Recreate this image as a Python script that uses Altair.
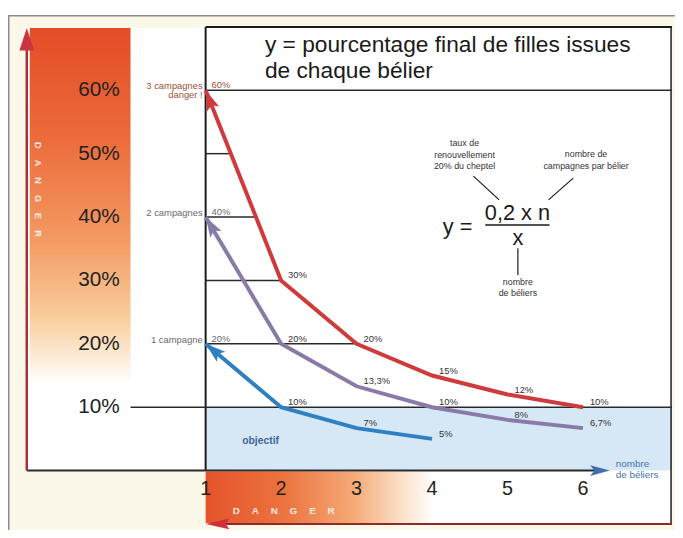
import math
import altair as alt
import pandas as pd

# ---------------- data ----------------
x_beliers = [1, 2, 3, 4, 5, 6]
pct_3_campagnes = [60, 30, 20, 15, 12, 10]
pct_2_campagnes = [40, 20, 13.3, 10, 8, 6.7]
pct_1_campagne = [20, 10, 6.7, 5]
labels_3 = ["60%", "30%", "20%", "15%", "12%", "10%"]
labels_2 = ["40%", "20%", "13,3%", "10%", "8%", "6,7%"]
labels_1 = ["20%", "10%", "7%", "5%"]
series_names = ["3 campagnes", "2 campagnes", "1 campagne"]
series_colors = ["#cf3b3c", "#8a7aa8", "#2f80c3"]
name_colors = ["#9c5236", "#6a6a6a", "#6a6a6a"]
y_tick_values = [10, 20, 30, 40, 50, 60]
x_tick_values = [1, 2, 3, 4, 5, 6]
guide_levels = [60, 50, 40, 30, 20]
guide_ends = [7.18, 1.333, 1.667, 2, 3]
objective_level = 10

# ---------------- geometry ----------------
X_MIN, X_MAX = 1, 7.18
Y_MIN, Y_MAX = 0, 70
W, H = 472, 449
OX, OY = 208, 24  # absolute position of plot origin in the page


def P(x):
    return x - OX


def Q(y):
    return y - OY


XS = alt.Scale(domain=[X_MIN, X_MAX], nice=False, zero=False)
YS = alt.Scale(domain=[Y_MIN, Y_MAX], nice=False, zero=False)
FILL_SCALE = alt.Scale(domain=series_names, range=name_colors)
COLOR_SCALE = alt.Scale(domain=series_names, range=series_colors)

rows = []
for name, ys, labs in zip(series_names,
                          [pct_3_campagnes, pct_2_campagnes, pct_1_campagne],
                          [labels_3, labels_2, labels_1]):
    for i, (x, y, lab) in enumerate(zip(x_beliers, ys, labs)):
        rows.append({"serie": name, "x": x, "y": y, "label": lab, "rank": i})
curves = pd.DataFrame(rows)

px_x = W / (X_MAX - X_MIN)
px_y = H / (Y_MAX - Y_MIN)
heads = []
for name, ys in zip(series_names, [pct_3_campagnes, pct_2_campagnes, pct_1_campagne]):
    dx = (x_beliers[0] - x_beliers[1]) * px_x
    dy = -(ys[0] - ys[1]) * px_y
    ang = math.degrees(math.atan2(dx, -dy)) % 360
    heads.append({"serie": name, "x": x_beliers[0], "y": ys[0], "ang": ang})
heads = pd.DataFrame(heads)

one = pd.DataFrame({"k": [0]})


def prect(x, y, x2, y2, **kw):
    return alt.Chart(one).mark_rect(**kw).encode(
        x=alt.value(x), y=alt.value(y), x2=alt.value(x2), y2=alt.value(y2))


def pline(x, y, x2, y2, **kw):
    return alt.Chart(one).mark_rule(**kw).encode(
        x=alt.value(x), y=alt.value(y), x2=alt.value(x2), y2=alt.value(y2))


def ptext(x, y, text, **kw):
    kw.setdefault("font", "Liberation Sans")
    return alt.Chart(one).mark_text(text=text, **kw).encode(
        x=alt.value(x), y=alt.value(y))


def phead(x, y, shape, size, color, angle=0):
    return alt.Chart(one).mark_point(
        shape=shape, size=size, filled=True, fill=color, opacity=1,
        strokeWidth=0, angle=angle).encode(x=alt.value(x), y=alt.value(y))


layers = []
# page background & frames
layers.append(prect(P(8.75), Q(12.75), P(720), Q(600), fill="#fcf8e9",
                    stroke="#8c8c8c", strokeWidth=1.5))
layers.append(prect(P(27), Q(25), P(208), Q(473), fill="white"))
layers.append(prect(0, 0, P(680), Q(527), fill="white"))

# objective zone
obj = pd.DataFrame({"x": [X_MIN], "x2": [X_MAX], "y": [0], "y2": [objective_level]})
layers.append(alt.Chart(obj).mark_rect(fill="#d6e7f5").encode(
    x=alt.X("x:Q", scale=XS, axis=None), x2="x2",
    y=alt.Y("y:Q", scale=YS, axis=None), y2="y2"))

# danger gradients
vgrad = alt.Gradient(gradient="linear", x1=0, x2=0, y1=0, y2=1, stops=[
    alt.GradientStop(color="#e44c27", offset=0),
    alt.GradientStop(color="#ec6a3a", offset=0.3),
    alt.GradientStop(color="#f39a63", offset=0.6),
    alt.GradientStop(color="#f9cf9e", offset=0.82),
    alt.GradientStop(color="#ffffff", offset=1)])
layers.append(prect(P(30), Q(25), P(132), Q(385), fill=vgrad))
hgrad = alt.Gradient(gradient="linear", x1=0, x2=1, y1=0, y2=0, stops=[
    alt.GradientStop(color="#e4532a", offset=0),
    alt.GradientStop(color="#ec7440", offset=0.35),
    alt.GradientStop(color="#f5ab78", offset=0.65),
    alt.GradientStop(color="#fbe0c6", offset=0.85),
    alt.GradientStop(color="#ffffff", offset=1)])
layers.append(prect(P(208), Q(474), P(440), Q(526), fill=hgrad))

sp = "\u2003\u2009"
danger = sp.join(list("DANGER"))
layers.append(ptext(P(38), Q(188.5), danger, angle=90, fontSize=9.3, fontWeight="bold",
                    fill="white", opacity=0.85, align="center", baseline="middle"))
layers.append(ptext(P(287), Q(514), danger, fontSize=10, fontWeight="bold",
                    fill="white", opacity=0.85, align="center", baseline="middle"))

# borders
layers.append(pline(0, 0, P(680), 0, stroke="#1a1a1a", strokeWidth=2))
layers.append(pline(0, 0, 0, H, stroke="#1a1a1a", strokeWidth=2))
layers.append(pline(P(679), 0, P(679), Q(527), stroke="#1a1a1a", strokeWidth=1.5))

# guide lines (to the 3-campaign curve)
guides = pd.DataFrame({"x0": [X_MIN] * len(guide_levels), "x1": guide_ends, "y": guide_levels})
layers.append(alt.Chart(guides).mark_rule(stroke="#2a2a2a", strokeWidth=1.5).encode(
    x=alt.X("x0:Q", scale=XS, axis=None), x2="x1",
    y=alt.Y("y:Q", scale=YS, axis=None)))
obj_line = pd.DataFrame({"y": [objective_level]})
layers.append(alt.Chart(obj_line).mark_rule(stroke="#2a2a2a", strokeWidth=1.5).encode(
    x=alt.value(P(132)), x2=alt.value(P(680)),
    y=alt.Y("y:Q", scale=YS, axis=None)))

# left box bottom and x axis arrow
layers.append(pline(P(27), H, 0, H, stroke="#2a2a2a", strokeWidth=2))
layers.append(pline(0, H, P(602), H, stroke="#2a2a2a", strokeWidth=2))
layers.append(phead(P(607), H, "M1,0 L-1,-0.55 L-0.55,0 L-1,0.55 Z", 400, "#3f6fb0"))

# left danger arrow
layers.append(pline(P(27), H, P(27), Q(40), stroke="#a3303a", strokeWidth=2.5))
layers.append(phead(P(27), Q(36.5), "M0,-1 L0.65,1 L-0.65,1 Z", 529, "#cc3340"))

# bottom danger arrow
layers.append(pline(P(216), Q(527), P(680), Q(527), stroke="#8e2a2a", strokeWidth=2))
layers.append(phead(P(220), Q(527), "M-1,0 L1,-0.45 L0.7,0 L1,0.45 Z", 576, "#d0303a"))

# tick labels (drawn through the scales)
xt = pd.DataFrame({"x": x_tick_values})
layers.append(alt.Chart(xt).mark_text(
    fontSize=20, fill="#222", align="center", baseline="middle",
    font="Liberation Sans").encode(
    x=alt.X("x:Q", scale=XS, axis=None), y=alt.value(Q(492)),
    text=alt.Text("x:Q", format="d")))
yt = pd.DataFrame({"y": y_tick_values})
layers.append(alt.Chart(yt).transform_calculate(lab="datum.y + '%'").mark_text(
    fontSize=21, fill="#222", align="right", baseline="middle",
    font="Liberation Sans").encode(
    y=alt.Y("y:Q", scale=YS, axis=None), x=alt.value(P(121)),
    text="lab:N"))

# curves
layers.append(alt.Chart(curves).mark_line(strokeWidth=4, strokeCap="butt").encode(
    x=alt.X("x:Q", scale=XS, axis=None),
    y=alt.Y("y:Q", scale=YS, axis=None),
    color=alt.Color("serie:N", scale=COLOR_SCALE, legend=None),
    order="x:Q"))

layers.append(alt.Chart(heads).mark_point(
    shape="M0,0 L0.55,1.7 L0,1.35 L-0.55,1.7 Z", size=576, filled=True, opacity=1,
    strokeWidth=0).encode(
    x=alt.X("x:Q", scale=XS, axis=None), y=alt.Y("y:Q", scale=YS, axis=None),
    color=alt.Color("serie:N", scale=COLOR_SCALE, legend=None),
    angle=alt.Angle("ang:Q", scale=None)))

# value labels
layers.append(alt.Chart(curves).transform_filter("datum.rank > 0").mark_text(
    align="left", baseline="alphabetic", dx=7, dy=-2, fontSize=9.5, fill="#333",
    font="Liberation Sans").encode(
    x=alt.X("x:Q", scale=XS, axis=None), y=alt.Y("y:Q", scale=YS, axis=None),
    text="label:N"))
layers.append(alt.Chart(curves).transform_filter("datum.rank == 0").mark_text(
    align="left", baseline="alphabetic", dx=6, dy=-2, fontSize=9.5,
    font="Liberation Sans").encode(
    x=alt.X("x:Q", scale=XS, axis=None), y=alt.Y("y:Q", scale=YS, axis=None),
    text="label:N",
    fill=alt.Fill("serie:N", scale=FILL_SCALE, legend=None)))

# series names at the left of the plot
layers.append(alt.Chart(curves).transform_filter("datum.rank == 0").mark_text(
    align="right", baseline="middle", dx=-3, dy=-4, fontSize=9.5,
    font="Liberation Sans").encode(
    x=alt.value(0), y=alt.Y("y:Q", scale=YS, axis=None),
    text="serie:N",
    fill=alt.Fill("serie:N", scale=FILL_SCALE, legend=None)))
layers.append(alt.Chart(curves).transform_filter(
    alt.datum.serie == series_names[0]).transform_filter("datum.rank == 0").mark_text(
    align="right", baseline="middle", dx=-3, dy=5, fontSize=9.5, text="danger !",
    font="Liberation Sans").encode(
    x=alt.value(0), y=alt.Y("y:Q", scale=YS, axis=None),
    fill=alt.Fill("serie:N", scale=FILL_SCALE, legend=None)))

# title
layers.append(ptext(P(268), Q(49), "y = pourcentage final de filles issues\nde chaque bélier",
                    align="left", baseline="alphabetic", fontSize=23, lineBreak="\n",
                    lineHeight=27, fill="#1a1a1a"))

# formula
layers.append(ptext(P(448), Q(227), "y =", align="left", baseline="middle",
                    fontSize=22, fill="#1a1a1a"))
layers.append(ptext(P(523.5), Q(212), "0,2 x n", align="center", baseline="middle",
                    fontSize=22, fill="#1a1a1a"))
layers.append(pline(P(491), Q(224.5), P(556), Q(224.5), stroke="#1a1a1a", strokeWidth=1.5))
layers.append(ptext(P(524), Q(238), "x", align="center", baseline="middle",
                    fontSize=22, fill="#1a1a1a"))
layers.append(pline(P(479), Q(175), P(505), Q(199), stroke="#1a1a1a", strokeWidth=1.2))
layers.append(pline(P(580), Q(177), P(555), Q(199), stroke="#1a1a1a", strokeWidth=1.2))
layers.append(pline(P(524), Q(248), P(524), Q(275), stroke="#1a1a1a", strokeWidth=1.2))
layers.append(ptext(P(470), Q(138), "taux de\nrenouvellement\n20% du cheptel",
                    align="center", baseline="top", fontSize=9, lineBreak="\n",
                    lineHeight=11.5, fill="#333"))
layers.append(ptext(P(593), Q(149), "nombre de\ncampagnes par bélier",
                    align="center", baseline="top", fontSize=9, lineBreak="\n",
                    lineHeight=11.5, fill="#333"))
layers.append(ptext(P(524), Q(278), "nombre\nde béliers",
                    align="center", baseline="top", fontSize=9, lineBreak="\n",
                    lineHeight=11, fill="#333"))

# other annotations
layers.append(ptext(P(245), Q(443), "objectif", align="left", baseline="middle",
                    fontSize=10.5, fontWeight="bold", fill="#3b679c"))
layers.append(ptext(P(623), Q(466), "nombre", align="left", baseline="middle",
                    fontSize=10, fill="#4a72a8"))
layers.append(ptext(P(623), Q(477.5), "de béliers", align="left", baseline="middle",
                    fontSize=10, fill="#4a72a8"))

chart = alt.layer(*layers).properties(
    width=W, height=H,
    autosize=alt.AutoSizeParams(type="none"),
    padding={"left": 200, "top": 16, "right": 3, "bottom": 57},
    background="white",
).configure(font="Liberation Sans").configure_view(stroke=None)

chart.save("out.html", embed_options={"renderer": "svg", "actions": False})
